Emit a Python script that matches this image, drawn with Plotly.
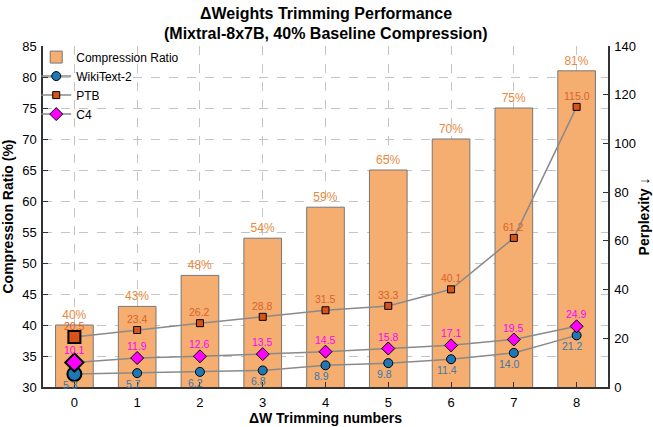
import plotly.graph_objects as go

x = [0, 1, 2, 3, 4, 5, 6, 7, 8]
compression = [40, 43, 48, 54, 59, 65, 70, 75, 81]
comp_labels = ["40%", "43%", "48%", "54%", "59%", "65%", "70%", "75%", "81%"]
wikitext = [5.3, 5.7, 6.2, 6.8, 8.9, 9.8, 11.4, 14.0, 21.2]
ptb = [20.5, 23.4, 26.2, 28.8, 31.5, 33.3, 40.1, 61.2, 115.0]
c4 = [10.1, 11.9, 12.6, 13.5, 14.5, 15.8, 17.1, 19.5, 24.9]
title_lines = ["ΔWeights Trimming Performance", "(Mixtral-8x7B, 40% Baseline Compression)"]

FONT = "Liberation Sans, Arial, Helvetica, sans-serif"
BAR_FILL = "#F5AE70"
PCT_COLOR = "#E8893E"
BLUE = "#1F77B4"
BLUE_TXT = "#3A78AE"
RED = "#D95319"
RED_TXT = "#D9622B"
MAG = "#FF00FF"
LINE_GRAY = "#8A8A8A"

fig = go.Figure()

fig.add_trace(go.Bar(
    x=x, y=compression, name="Compression Ratio", width=0.6,
    marker=dict(color=BAR_FILL, line=dict(color="#777777", width=1)),
    text=comp_labels, textposition="outside", cliponaxis=False,
    textfont=dict(color=PCT_COLOR, size=12, family=FONT),
    yaxis="y",
))

# name, values, symbol, fill, label colour, label shift (x, y), small size, first-point size
series = [
    ("WikiText-2", wikitext, "circle", BLUE, BLUE_TXT, (-4, -11), 9, 14),
    ("PTB", ptb, "square", RED, RED_TXT, (0, 11), 7, 12),
    ("C4", c4, "diamond", MAG, MAG, (0, 12), 10, 14),
]

for name, vals, sym, col, tcol, shift, small, big in series:
    fig.add_trace(go.Scatter(
        x=x, y=vals, name=name, mode="lines+markers",
        line=dict(color=LINE_GRAY, width=1.5),
        marker=dict(symbol=sym, size=small, color=col, line=dict(color="black", width=1)),
        yaxis="y2", cliponaxis=False,
    ))
for name, vals, sym, col, tcol, shift, small, big in series:
    fig.add_trace(go.Scatter(
        x=x[:1], y=vals[:1], name=name, mode="markers", showlegend=False,
        marker=dict(symbol=sym, size=big, color=col, line=dict(color="black", width=2)),
        yaxis="y2", cliponaxis=False, hoverinfo="skip",
    ))
    for xi, v in zip(x, vals):
        fig.add_annotation(
            x=xi, y=v, xref="x", yref="y2", text=f"{v:.1f}", showarrow=False,
            xshift=shift[0], yshift=shift[1], yanchor="middle",
            font=dict(color=tcol, size=10.5, family=FONT),
        )

fig.add_annotation(text=f"<b>{title_lines[0]}</b>", xref="paper", yref="paper",
                   x=0.5, y=1, yshift=33, yanchor="middle", showarrow=False,
                   font=dict(size=16, family=FONT, color="black"))
fig.add_annotation(text=f"<b>{title_lines[1]}</b>", xref="paper", yref="paper",
                   x=0.5, y=1, yshift=13, yanchor="middle", showarrow=False,
                   font=dict(size=16, family=FONT, color="black"))

fig.update_layout(
    width=653, height=427,
    margin=dict(l=43, r=45, t=46, b=40, autoexpand=False),
    plot_bgcolor="white", paper_bgcolor="white",
    font=dict(family=FONT, size=13, color="black"),
    xaxis=dict(
        range=[-0.5, 8.5], tickmode="array", tickvals=x, ticktext=[str(v) for v in x],
        showgrid=True, gridcolor="#C4C4C4", griddash="dash", gridwidth=1,
        showline=True, linecolor="#333333", linewidth=1.5,
        ticks="inside", ticklen=5, tickcolor="#333333", ticklabelstandoff=3,
        title=dict(text="<b>ΔW Trimming numbers</b>", standoff=2, font=dict(size=14)),
        zeroline=False, automargin=False,
    ),
    yaxis=dict(
        range=[30, 85], dtick=5, tick0=30,
        showgrid=True, gridcolor="#C4C4C4", griddash="dash", gridwidth=1,
        showline=True, linecolor="#333333", linewidth=1.5,
        ticks="inside", ticklen=5, tickcolor="#333333", ticklabelstandoff=2,
        title=dict(text="<b>Compression Ratio (%)</b>", standoff=6, font=dict(size=14)),
        zeroline=False, automargin=False,
    ),
    yaxis2=dict(
        range=[0, 140], dtick=20, overlaying="y", side="right",
        showgrid=False, showline=True, linecolor="#333333", linewidth=1.5,
        ticks="inside", ticklen=5, tickcolor="#333333", ticklabelstandoff=2,
        title=dict(text="<b>Perplexity ↓</b>", standoff=4, font=dict(size=14)),
        zeroline=False, automargin=False,
    ),
    legend=dict(
        x=-0.012, y=1.01, xanchor="left", yanchor="top",
        bgcolor="rgba(0,0,0,0)", font=dict(size=12), tracegroupgap=0,
    ),
    barmode="overlay",
)

fig.write_html(
    "out.html",
    config={"displayModeBar": False},
    post_script="document.body.style.margin='0';document.body.style.padding='0';",
)
